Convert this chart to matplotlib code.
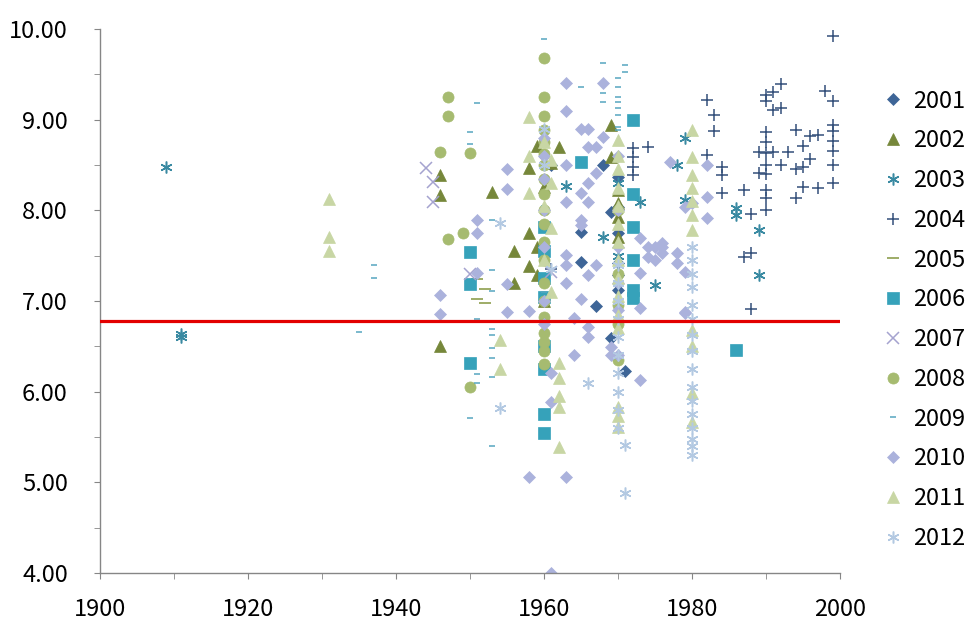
import numpy as np
import matplotlib
matplotlib.use("Agg")
import matplotlib.pyplot as plt
from matplotlib.ticker import MultipleLocator, FormatStrFormatter

plt.rcParams['font.family'] = ['Noto Sans CJK KR', 'DejaVu Sans']

# ---- data (year built, value) per survey year ----
x2001 = [1961, 1965, 1965, 1967, 1968, 1969, 1969, 1970, 1970, 1970, 1970, 1970, 1970, 1971]
y2001 = [8.50, 7.76, 7.43, 6.94, 8.50, 6.59, 7.98, 8.37, 8.04, 7.75, 7.42, 7.29, 7.12, 6.23]

x2002 = [1946, 1946, 1946, 1953, 1956, 1956, 1958, 1958, 1958, 1959, 1959, 1959,
         1960, 1961, 1962, 1969, 1969, 1970, 1970, 1970, 1970, 1960]
y2002 = [8.39, 8.17, 6.50, 8.20, 7.55, 7.20, 8.47, 7.75, 7.38, 8.71, 7.60, 7.29,
         8.26, 8.52, 8.70, 8.94, 8.59, 8.22, 8.08, 7.93, 7.70, 7.00]

x2003 = [1909, 1911, 1911, 1963, 1968, 1973, 1975, 1978, 1979, 1979, 1986, 1986,
         1989, 1989, 1970, 1970]
y2003 = [8.48, 6.63, 6.60, 8.27, 7.71, 8.09, 7.18, 8.50, 8.80, 8.11, 8.03, 7.95,
         7.78, 7.29, 8.30, 7.50]

x2004 = [1999, 1992, 1991, 1990, 1990, 1991, 1992, 1998, 1999, 1982, 1983, 1983,
         1982, 1984, 1984, 1984, 1987, 1988, 1990, 1990, 1989, 1990, 1991, 1990,
         1989, 1990, 1990, 1990, 1990, 1992, 1993, 1994, 1995, 1996, 1997, 1996,
         1995, 1994, 1995, 1997, 1994, 1999, 1999, 1999, 1999, 1999, 1999, 1987,
         1988, 1988, 1972, 1972, 1972, 1972, 1974, 1961]
y2004 = [9.92, 9.39, 9.30, 9.27, 9.20, 9.11, 9.13, 9.31, 9.20, 9.22, 9.05, 8.87,
         8.61, 8.48, 8.39, 8.19, 8.22, 7.96, 8.86, 8.75, 8.64, 8.63, 8.64, 8.50,
         8.41, 8.40, 8.22, 8.13, 8.00, 8.50, 8.64, 8.89, 8.71, 8.82, 8.83, 8.56,
         8.48, 8.46, 8.26, 8.24, 8.13, 8.94, 8.87, 8.76, 8.65, 8.50, 8.30, 7.49,
         7.53, 6.91, 8.69, 8.59, 8.48, 8.39, 8.70, 7.35]

x2005 = [1951, 1952, 1951, 1952]
y2005 = [7.24, 7.13, 7.02, 6.98]

x2006 = [1950, 1950, 1950, 1960, 1960, 1960, 1960, 1960, 1960, 1960, 1960,
         1972, 1972, 1972, 1972, 1972, 1972, 1986, 1965]
y2006 = [7.54, 7.19, 6.32, 7.82, 7.55, 7.25, 7.04, 6.50, 6.25, 5.75, 5.54,
         8.99, 8.18, 7.81, 7.45, 7.12, 7.03, 6.46, 8.53]

x2007 = [1944, 1945, 1945, 1950, 1961]
y2007 = [8.47, 8.31, 8.09, 7.30, 7.32]

x2008 = [1947, 1947, 1946, 1950, 1949, 1947, 1950,
         1960, 1960, 1960, 1960, 1960, 1960, 1960, 1960, 1960, 1960,
         1960, 1960, 1960, 1960, 1960, 1960, 1960, 1960, 1960, 1960,
         1970, 1970, 1970, 1970, 1970]
y2008 = [9.25, 9.04, 8.64, 8.63, 7.75, 7.68, 6.05,
         9.68, 9.25, 9.04, 8.88, 8.75, 8.62, 8.50, 8.35, 8.18, 8.00,
         7.85, 7.65, 7.45, 7.20, 7.00, 6.82, 6.65, 6.55, 6.45, 6.30,
         8.00, 7.30, 6.95, 6.75, 6.35]

x2009 = [1935, 1937, 1937, 1950, 1950, 1951, 1953, 1953, 1953, 1951, 1953, 1953,
         1953, 1953, 1953, 1951, 1951, 1950, 1953, 1960, 1965, 1968, 1968, 1968,
         1970, 1970, 1970, 1970, 1970, 1970, 1970, 1970, 1971, 1971, 1960, 1960]
y2009 = [6.66, 7.40, 7.25, 8.86, 8.73, 9.18, 7.89, 7.34, 7.11, 6.80, 6.69, 6.62,
         6.48, 6.37, 6.16, 6.19, 6.09, 5.71, 5.40, 9.89, 9.36, 9.29, 9.19, 9.62,
         9.46, 9.36, 9.25, 9.19, 9.13, 9.05, 8.92, 8.89, 9.60, 9.53, 8.05, 7.10]

x2010 = [1946, 1946, 1951, 1951, 1951, 1955, 1955, 1955, 1955, 1958, 1958, 1961,
         1963, 1968, 1963, 1965, 1966, 1968, 1966, 1967, 1963, 1967, 1966, 1965,
         1963, 1966, 1965, 1965, 1963, 1963, 1967, 1966, 1963, 1965, 1973, 1974,
         1975, 1976, 1974, 1975, 1978, 1978, 1977, 1973, 1982, 1982, 1982, 1979,
         1980, 1976, 1976, 1979, 1979, 1973, 1966, 1966, 1969, 1970, 1969, 1979,
         1973, 1964, 1964, 1961, 1961, 1963, 1960, 1960, 1960, 1960, 1960, 1960,
         1960, 1970, 1970, 1970, 1970, 1970]
y2010 = [7.07, 6.86, 7.89, 7.75, 7.31, 8.46, 8.23, 7.19, 6.88, 6.89, 5.06, 4.00,
         9.40, 9.40, 9.10, 8.90, 8.90, 8.81, 8.70, 8.70, 8.50, 8.41, 8.30, 8.19,
         8.09, 8.09, 7.89, 7.84, 7.51, 7.40, 7.40, 7.29, 7.20, 7.02, 7.69, 7.60,
         7.60, 7.60, 7.49, 7.45, 7.53, 7.42, 8.53, 7.31, 8.50, 8.15, 7.92, 8.04,
         8.08, 7.64, 7.53, 7.32, 6.87, 6.13, 6.71, 6.60, 6.49, 6.40, 6.40, 6.88,
         6.92, 6.81, 6.40, 6.20, 5.89, 5.06, 8.80, 8.60, 8.35, 8.00, 7.60, 7.00,
         6.75, 8.60, 8.00, 7.60, 7.20, 6.90]

x2011 = [1931, 1931, 1931, 1958, 1958, 1958, 1954, 1954, 1962, 1962, 1962, 1962,
         1962, 1970, 1970, 1970, 1980, 1980, 1980, 1980, 1980, 1980, 1980, 1980,
         1980, 1980, 1980, 1960, 1961, 1961, 1960, 1961, 1960, 1961,
         1970, 1970, 1970, 1970, 1970, 1970, 1970, 1970, 1970, 1970, 1970, 1970]
y2011 = [8.12, 7.70, 7.55, 9.03, 8.60, 8.19, 6.57, 6.25, 6.32, 6.15, 5.95, 5.83,
         5.39, 5.83, 5.73, 5.61, 8.89, 8.59, 8.39, 8.24, 8.10, 7.95, 7.78, 6.68,
         6.50, 5.99, 5.67, 8.75, 8.55, 8.30, 8.05, 7.80, 7.45, 7.10,
         8.78, 8.60, 8.45, 8.25, 8.05, 7.85, 7.65, 7.45, 7.25, 7.05, 6.85, 6.70]

x2012 = [1954, 1954, 1966, 1971, 1971,
         1980, 1980, 1980, 1980, 1980, 1980, 1980, 1980, 1980, 1980, 1980, 1980,
         1980, 1980, 1980, 1980,
         1970, 1970, 1970, 1970, 1970, 1970, 1970, 1970, 1970, 1970,
         1960, 1960, 1961]
y2012 = [7.86, 5.82, 6.10, 5.41, 4.88,
         7.60, 7.45, 7.30, 7.15, 6.95, 6.80, 6.62, 6.45, 6.25, 6.05, 5.90, 5.75,
         5.60, 5.48, 5.40, 5.30,
         7.40, 7.20, 7.00, 6.80, 6.60, 6.40, 6.20, 6.00, 5.80, 5.60,
         8.90, 8.50, 7.35]

avg_value = 6.78

series = [
    ('2001', x2001, y2001, 'D', '#3e6597', 6),
    ('2002', x2002, y2002, '^', '#76873a', 8),
    ('2003', x2003, y2003, (6, 2, 0), '#3a8aa2', 8.5),
    ('2004', x2004, y2004, '+', '#34507a', 9),
    ('2005', x2005, y2005, '_', '#84963f', 9),
    ('2006', x2006, y2006, 's', '#36a2ba', 8),
    ('2007', x2007, y2007, 'x', '#a5a3cf', 8),
    ('2008', x2008, y2008, 'o', '#a6bb70', 8),
    ('2009', x2009, y2009, '_', '#56a6c0', 5),
    ('2010', x2010, y2010, 'D', '#abb2dc', 6),
    ('2011', x2011, y2011, '^', '#c8d6a4', 8),
    ('2012', x2012, y2012, (6, 2, 0), '#b3c9e2', 8.5),
]

fig = plt.figure(figsize=(9.78, 6.42), dpi=100)
ax = fig.add_axes([0.102, 0.1075, 0.757, 0.8475])

for i, (lab, xs, ys, mk, col, ms) in enumerate(series):
    if mk in ['+', 'x', '_'] or isinstance(mk, tuple):
        mew = 1.1
    else:
        mew = 0.5
    ax.plot(xs, ys, linestyle='none', marker=mk, color=col, markersize=ms,
            markeredgewidth=mew, label=lab, zorder=2 + i * 0.01)

ax.axhline(avg_value, color='#e30000', linewidth=2.3, zorder=5)

ax.set_xlim(1900, 2000)
ax.set_ylim(4, 10)
ax.xaxis.set_major_locator(MultipleLocator(20))
ax.xaxis.set_minor_locator(MultipleLocator(10))
ax.yaxis.set_major_locator(MultipleLocator(1))
ax.yaxis.set_minor_locator(MultipleLocator(0.5))
ax.yaxis.set_major_formatter(FormatStrFormatter('%.2f'))

for s in ['top', 'right']:
    ax.spines[s].set_visible(False)
for s in ['left', 'bottom']:
    ax.spines[s].set_color('#868686')
    ax.spines[s].set_linewidth(1.0)

ax.tick_params(axis='both', which='both', direction='out', color='#868686',
               labelsize=17, labelcolor='black', length=4)
ax.tick_params(axis='y', pad=19)
ax.tick_params(axis='x', pad=14)

fig.legend(loc='center left', bbox_to_anchor=(0.895, 0.502), frameon=False,
           fontsize=17, labelspacing=0.71, handlelength=0.7, handletextpad=0.5,
           borderaxespad=0, numpoints=1)

fig.savefig('out.png', dpi=100)
